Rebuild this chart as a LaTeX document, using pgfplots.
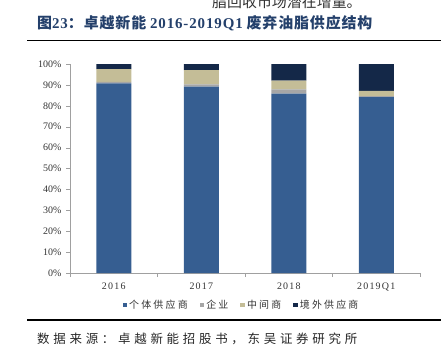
\documentclass[border=0pt]{standalone}
\usepackage{fontspec}
\setmainfont{Liberation Serif}
\newfontfamily\cjk{Noto Sans CJK SC}
\newfontfamily\cjkti[LetterSpace=6]{Noto Sans CJK SC}
\newfontfamily\serti[LetterSpace=6]{Liberation Serif}
\newfontfamily\cjkls[LetterSpace=30]{Noto Sans CJK SC}
\newfontfamily\cjkleg[LetterSpace=22]{Noto Sans CJK SC}
\newfontfamily\serls[LetterSpace=12]{Liberation Serif}
\usepackage{pgfplots}
\pgfplotsset{compat=1.18}
\definecolor{cblue}{RGB}{54,94,145}
\definecolor{cgray}{RGB}{166,166,166}
\definecolor{cbeige}{RGB}{196,189,151}
\definecolor{cnavy}{RGB}{20,40,72}
\definecolor{ctitle}{RGB}{36,64,107}
\definecolor{caxis}{RGB}{160,160,160}
\begin{document}
\begin{tikzpicture}[x=1bp,y=1bp]
\useasboundingbox (0,0) rectangle (441,355);
\begin{scope}
\clip (0,0) rectangle (441,355);
\node[anchor=base west, inner sep=0, font=\cjk\fontsize{15}{16}\selectfont, text=black!80] at (212,348) {脂回收市场潜在增量。};
\end{scope}
\node[anchor=base west, inner sep=0, text=ctitle, font=\bfseries\fontsize{15}{16}\selectfont] at (37,327) {{\cjkti 图}{\serti 23}{\cjkti ：卓越新能} {\serti 2016-2019Q1} {\cjkti 废弃油脂供应结构}};
\draw[line width=1bp] (27,315) -- (441,315);
\draw[line width=1.5bp] (27,35) -- (441,35);
\node[anchor=base west, inner sep=0, font=\cjkls\fontsize{12.5}{13}\selectfont, text=black!85] at (37,12) {数据来源：卓越新能招股书，东吴证券研究所};
\begin{axis}[
  at={(70bp,82bp)}, anchor=south west,
  scale only axis, width=350bp, height=209bp,
  ybar stacked, bar width=35bp,
  xmin=-0.5, xmax=3.5, ymin=0, ymax=100,
  axis lines*=left,
  axis line style={caxis},
  tick align=outside,
  major tick length=4bp, minor tick length=4bp,
  tick style={caxis},
  ytick={0,10,...,100},
  yticklabel={\pgfmathprintnumber{\tick}\%},
  xtick={0,1,2,3},
  xticklabels={2016,2017,2018,2019Q1},
  major x tick style={draw=none},
  minor xtick={-0.5,0.5,1.5,2.5,3.5},
  /pgf/number format/assume math mode=true,
  yticklabel style={font=\fontsize{10}{10}\selectfont, text=black!80, xshift=-1bp},
  xticklabel style={font=\serls\fontsize{10}{10}\selectfont, text=black!80, yshift=-2bp},
  legend style={at={(0.49,-0.153)}, anchor=center, draw=none, fill=none,
    font=\cjkleg\fontsize{10}{10}\selectfont, text=black!80,
    /tikz/every even column/.append style={column sep=10bp}},
  legend columns=-1,
  legend image code/.code={\fill[#1] (0bp,-2.3bp) rectangle (4.6bp,2.3bp);},
  clip=false,
]
\addplot[fill=cblue, draw=none] coordinates {(0,90.7) (1,89.2) (2,85.8) (3,84.2)};
\addplot[fill=cgray, draw=none] coordinates {(0,0.8) (1,1.1) (2,2.0) (3,0.4)};
\addplot[fill=cbeige, draw=none] coordinates {(0,6.0) (1,6.8) (2,4.3) (3,2.5)};
\addplot[fill=cnavy, draw=none] coordinates {(0,2.5) (1,2.9) (2,7.9) (3,12.9)};
\legend{个体供应商,企业,中间商,境外供应商}
\node[text=white, font=\fontsize{9.5}{10}\selectfont] at (axis cs:0,44) {91\%};
\node[text=white, font=\fontsize{9.5}{10}\selectfont] at (axis cs:1,44) {89\%};
\node[text=white, font=\fontsize{9.5}{10}\selectfont] at (axis cs:2,42.5) {86\%};
\node[text=white, font=\fontsize{9.5}{10}\selectfont] at (axis cs:3,42) {84\%};
\end{axis}
\end{tikzpicture}
\end{document}
